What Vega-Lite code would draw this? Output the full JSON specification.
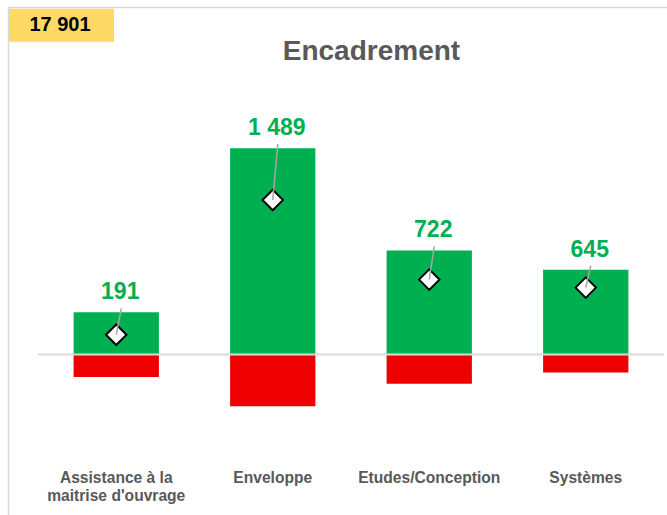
{
  "$schema": "https://vega.github.io/schema/vega-lite/v6.json",
  "width": 626,
  "height": 353,
  "autosize": "none",
  "padding": {"left": 38, "top": 95, "right": 3, "bottom": 67},
  "background": "white",
  "config": {"view": {"stroke": null}, "font": "Liberation Sans"},
  "data": {
    "values": [
      {"cat": "Assistance à la maitrise d'ouvrage", "pos": 407, "neg": -216, "net": 191, "label": "191"},
      {"cat": "Enveloppe", "pos": 1988, "neg": -499, "net": 1489, "label": "1 489"},
      {"cat": "Etudes/Conception", "pos": 1003, "neg": -281, "net": 722, "label": "722"},
      {"cat": "Systèmes", "pos": 818, "neg": -173, "net": 645, "label": "645"}
    ]
  },
  "layer": [
    {
      "layer": [
        {
          "mark": {"type": "bar", "color": "#00B050"},
          "encoding": {
            "x": {
              "field": "cat", "type": "nominal", "sort": null,
              "scale": {"paddingInner": 0.455, "paddingOuter": 0.2275},
              "axis": {
                "title": null, "domain": false, "ticks": false, "grid": false, "labelAngle": 0,
                "labelFont": "Liberation Sans", "labelFontSize": 15.6, "labelFontWeight": "bold",
                "labelColor": "#595959", "labelPadding": 22, "labelLineHeight": 18, "labelBaseline": "top",
                "labelLimit": 300,
                "labelExpr": "datum.value == \"Assistance à la maitrise d'ouvrage\" ? [\"Assistance à la\", \"maitrise d'ouvrage\"] : datum.value"
              }
            },
            "y": {"field": "pos", "type": "quantitative", "scale": {"domain": [-900, 2500], "nice": false}, "axis": null},
            "y2": {"datum": 0}
          }
        },
        {
          "mark": {"type": "bar", "color": "#EE0000"},
          "encoding": {
            "x": {"field": "cat", "type": "nominal", "sort": null},
            "y": {"field": "neg", "type": "quantitative", "axis": null},
            "y2": {"datum": 0}
          }
        },
        {
          "mark": {"type": "point", "shape": "diamond", "filled": true, "fill": "white", "stroke": "black", "strokeWidth": 2, "size": 420, "opacity": 1},
          "encoding": {
            "x": {"field": "cat", "type": "nominal", "sort": null},
            "y": {"field": "net", "type": "quantitative", "axis": null}
          }
        },
        {
          "mark": {"type": "rule", "color": "#A6A6A6", "strokeWidth": 1.5, "xOffset": 5, "yOffset": -4},
          "encoding": {
            "x": {"field": "cat", "type": "nominal", "sort": null},
            "x2": {"field": "cat"},
            "y": {"field": "pos", "type": "quantitative", "axis": null},
            "y2": {"field": "net"}
          }
        },
        {
          "mark": {"type": "text", "color": "#00B050", "font": "Liberation Sans", "fontSize": 23, "fontWeight": "bold", "baseline": "middle", "align": "center", "dx": 4, "dy": -20},
          "encoding": {
            "x": {"field": "cat", "type": "nominal", "sort": null},
            "y": {"field": "pos", "type": "quantitative", "axis": null},
            "text": {"field": "label"}
          }
        }
      ]
    },
    {
      "data": {"values": [{}]},
      "mark": {"type": "rule", "color": "#D9D9D9", "strokeWidth": 2},
      "encoding": {"y": {"datum": 0, "type": "quantitative", "axis": null}}
    },
    {
      "data": {"values": [{}]},
      "mark": {"type": "rect", "fillOpacity": 0, "stroke": "#D9D9D9", "strokeWidth": 1.5, "clip": false},
      "encoding": {
        "x": {"datum": -0.0471, "type": "quantitative", "scale": {"domain": [0, 1], "nice": false, "zero": false}, "axis": null},
        "x2": {"datum": 1.2},
        "y": {"datum": 3343, "type": "quantitative", "axis": null},
        "y2": {"datum": -2000}
      }
    },
    {
      "data": {"values": [{}]},
      "mark": {"type": "rect", "color": "#FFD966", "clip": false},
      "encoding": {
        "x": {"datum": -0.0463, "type": "quantitative", "scale": {"domain": [0, 1], "nice": false, "zero": false}, "axis": null},
        "x2": {"datum": 0.1214},
        "y": {"datum": 3331, "type": "quantitative", "axis": null},
        "y2": {"datum": 3014}
      }
    },
    {
      "data": {"values": [{}]},
      "mark": {"type": "text", "color": "black", "font": "Liberation Sans", "fontSize": 20, "fontWeight": "bold", "baseline": "middle", "align": "center", "clip": false},
      "encoding": {
        "x": {"datum": 0.0351, "type": "quantitative", "scale": {"domain": [0, 1], "nice": false, "zero": false}, "axis": null},
        "y": {"datum": 3175, "type": "quantitative", "axis": null},
        "text": {"value": "17 901"}
      }
    },
    {
      "data": {"values": [{}]},
      "mark": {"type": "text", "color": "#595959", "font": "Liberation Sans", "fontSize": 28, "fontWeight": "bold", "baseline": "alphabetic", "align": "center", "clip": false},
      "encoding": {
        "x": {"datum": 0.5327, "type": "quantitative", "scale": {"domain": [0, 1], "nice": false, "zero": false}, "axis": null},
        "y": {"datum": 2838, "type": "quantitative", "axis": null},
        "text": {"value": "Encadrement"}
      }
    }
  ],
  "resolve": {"scale": {"x": "independent"}}
}
